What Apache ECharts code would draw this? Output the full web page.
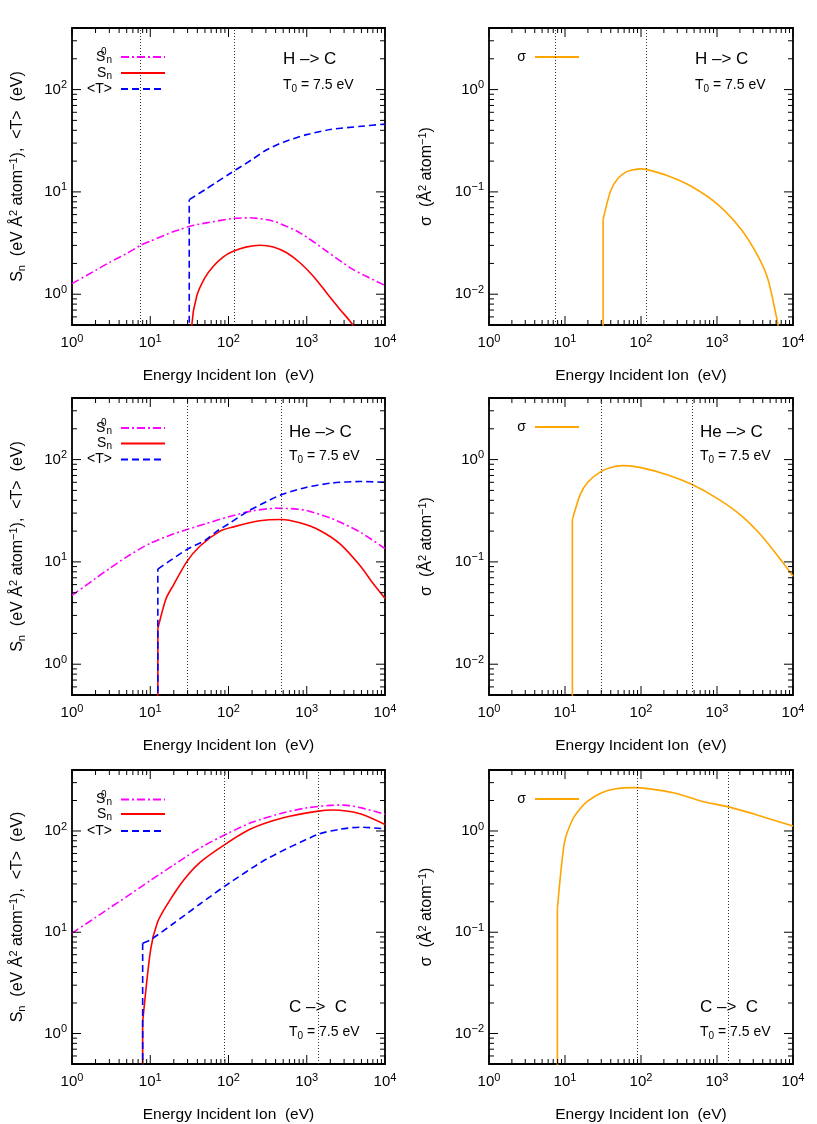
<!DOCTYPE html>
<html>
<head>
<meta charset="utf-8">
<script src="https://cdn.jsdelivr.net/npm/echarts@6/dist/echarts.min.js"></script>
<style>
html, body { margin: 0; padding: 0; background: #fff; }
#chart { width: 817px; height: 1124px; }
</style>
</head>
<body>
<div id="chart"></div>
<script>
// values, [energy (eV), value]
// H -> C
const hcS0 = [[1,1.27],[2,1.71],[3,2.04],[5,2.5],[7.5,3.0],[10,3.3],[20,4.1],[24,4.29],[32,4.62],[50,4.95],[115,5.5],[188,5.58],[374,5.17],[819,3.98],[1797,2.63],[3936,1.74],[10000,1.22]];
const hcSn = [[31.5,0.05],[34,0.5],[39.2,0.955],[50,1.45],[64,1.88],[86,2.32],[115,2.63],[171,2.9],[253,3.01],[374,2.9],[554,2.54],[819,2.03],[1213,1.5],[1797,1.03],[2660,0.71],[3866,0.5],[5000,0.3]];
const hcT = [[31.5,0.01],[31.5,8.4],[50,10.5],[70,12.4],[100,14.8],[200,20.7],[300,25.5],[500,30.6],[1000,36.3],[2000,40.7],[5000,43.8],[10000,46]];
const hcSig = [[31.7,0.001],[31.7,0.0537],[39.7,0.1016],[49.5,0.135],[63.8,0.157],[82,0.165],[100,0.168],[117,0.166],[225,0.144],[458,0.1136],[1028,0.0752],[2086,0.0429],[3460,0.0235],[4690,0.0139],[6340,0.00506],[8000,0.002]];
const hcLines = [7.5, 117];

// He -> C
const heS0 = [[1,4.7],[2,6.9],[3,8.6],[5,11.2],[10,15.2],[20,18.8],[30,20.8],[50,23.5],[100,27.6],[200,31.5],[400,33.4],[700,33],[1000,31.8],[2000,26.8],[3000,23.5],[5000,19.2],[10000,13.5]];
const heSn = [[12.5,0.01],[12.5,2.23],[15.9,4.37],[19.7,5.9],[29.2,10],[43.3,14.3],[78,20],[116,22],[250,25.2],[467,26],[820,24.1],[1470,20.3],[2660,15],[4790,9.2],[7100,6.1],[10000,4.4]];
const heT = [[12.5,0.01],[12.5,8.5],[29.2,13.2],[50,16.2],[70,19.8],[100,23.5],[180,31.5],[300,38.5],[467,45.2],[1000,53.7],[2170,59.2],[4790,61],[10000,60.1]];
const heSig = [[12.5,0.001],[12.5,0.259],[15.8,0.452],[19.9,0.6],[29.6,0.763],[44.8,0.855],[60.6,0.874],[100,0.835],[226,0.708],[472,0.57],[1028,0.413],[2086,0.284],[3830,0.181],[7020,0.103],[10000,0.0724]];
const heLines = [29.7, 470];

// C -> C
const ccS0 = [[1,9.8],[2,14],[3,17.3],[5,22.5],[10,32.4],[20,46.2],[30,56.9],[50,72.4],[100,95.5],[200,121.6],[500,151],[1000,169],[2000,179],[3000,180],[5000,169],[10000,146]];
const ccSn = [[8,0.01],[8,1.3],[10.1,6.7],[12.3,12.4],[16.2,18.4],[26.5,32.4],[43.3,49],[88.5,73],[188,104],[502,135],[1400,157],[2170,161],[4790,148],[10000,116]];
const ccT = [[8,0.01],[8,7.8],[10,8.4],[19.8,12.2],[43.2,19],[88.5,28.3],[307,52.8],[1400,92.7],[2660,104],[4790,109],[10000,105]];
const ccSig = [[7.94,0.001],[7.94,0.171],[9.83,0.769],[12.4,1.27],[15.5,1.63],[19.9,1.97],[29.9,2.37],[44.8,2.6],[82,2.68],[123,2.62],[276,2.37],[620,1.97],[1421,1.73],[3460,1.43],[10000,1.12]];
const ccLines = [88.5, 1415];

const xRange = [1, 10000];
const snRange = [0.5, 400];
const sigRange = [0.005, 4];

const FONT = 'Liberation Sans';
const chart = echarts.init(document.getElementById('chart'));

const gridLeft = [72, 489];
const gridWidth = [313, 304];
const gridTop = [28, 398, 770];
const gridH = 297;

const rows = [
  { S0: hcS0, Sn: hcSn, T: hcT, sig: hcSig, vl: hcLines, label: 'H –> C', tx: [283, 695], ty: [34, 57], ly: [31.5, 50, 66] },
  { S0: heS0, Sn: heSn, T: heT, sig: heSig, vl: heLines, label: 'He –> C', tx: [289, 700], ty: [37, 58], ly: [32.5, 50.5, 66.5] },
  { S0: ccS0, Sn: ccSn, T: ccT, sig: ccSig, vl: ccLines, label: 'C –>  C', tx: [289, 700], ty: [240, 262], ly: [32, 49, 66] }
];

const base = { fontFamily: FONT, color: '#000', fontWeight: 'normal' };
const powRich = {
  b: Object.assign({ fontSize: 15 }, base),
  e: Object.assign({ fontSize: 11, padding: [0, 0, 9, 0] }, base)
};
const nameRich = {
  t: Object.assign({ fontSize: 16 }, base),
  sub: Object.assign({ fontSize: 11, padding: [8, 0, 0, 0] }, base),
  sup: Object.assign({ fontSize: 11, padding: [0, 0, 9, 0] }, base)
};
const legRich = {
  t: Object.assign({ fontSize: 14 }, base),
  sub: Object.assign({ fontSize: 10, padding: [6, 0, 0, 0] }, base),
  sup: Object.assign({ fontSize: 10, padding: [0, 0, 9, 0], width: 1 }, base),
  gap: { width: 4 },
  h: { width: 1, height: 24 }
};
const legText = {
  S0: '{h| }{t|S}{sup|0}{sub|n}{gap| }',
  Sn: '{h| }{t|S}{sub|n}{gap| }',
  T: '{h| }{t|<T>}{gap| }',
  sigma: '{h| }{t|σ}{gap| }'
};

function powLabel(v) {
  const e = Math.log10(v);
  const r = Math.round(e);
  if (Math.abs(e - r) > 1e-6) return '';
  return '{b|10}{e|' + (r < 0 ? '−' + (-r) : r) + '}';
}

function logTicks(range) {
  const out = [];
  const d0 = Math.floor(Math.log10(range[0]) + 1e-9);
  const d1 = Math.ceil(Math.log10(range[1]) - 1e-9);
  for (let d = d0; d <= d1; d++) {
    for (let m = 1; m <= 9; m++) {
      const v = m * Math.pow(10, d);
      if (v >= range[0] * 0.999 && v <= range[1] * 1.001) out.push([v, m === 1 ? 1 : 0]);
    }
  }
  return out;
}

function tickSeries(gi, axis, range, other) {
  return {
    type: 'custom', xAxisIndex: gi, yAxisIndex: gi, silent: true, z: 10, animation: false,
    data: logTicks(range).map(t => axis === 'x' ? [t[0], other, t[1]] : [other, t[0], t[1]]),
    encode: { x: 0, y: 1 },
    renderItem: function (params, api) {
      const cs = params.coordSys;
      const p = api.coord([api.value(0), api.value(1)]);
      const len = api.value(2) ? 9 : 5;
      const st = { stroke: '#000', lineWidth: 1 };
      if (axis === 'x') {
        const x = p[0];
        return { type: 'group', children: [
          { type: 'line', shape: { x1: x, y1: cs.y + cs.height, x2: x, y2: cs.y + cs.height - len }, style: st },
          { type: 'line', shape: { x1: x, y1: cs.y, x2: x, y2: cs.y + len }, style: st }
        ] };
      }
      const y = p[1];
      return { type: 'group', children: [
        { type: 'line', shape: { x1: cs.x, y1: y, x2: cs.x + len, y2: y }, style: st },
        { type: 'line', shape: { x1: cs.x + cs.width, y1: y, x2: cs.x + cs.width - len, y2: y }, style: st }
      ] };
    }
  };
}

function lineSeries(gi, name, data, color, dash, smooth) {
  return {
    type: 'line', name: name, xAxisIndex: gi, yAxisIndex: gi, data: data,
    showSymbol: false, symbol: 'none', z: 3, animation: false,
    smooth: smooth ? 0.25 : false,
    lineStyle: { color: color, width: 1.6, type: dash },
    itemStyle: { color: color }
  };
}

// a curve whose first two points share the energy gets a straight vertical
// foot and a smoothed remainder
function addCurve(list, gi, name, data, color, dash) {
  if (data[0][0] === data[1][0]) {
    const foot = lineSeries(gi, name, data.slice(0, 2), color, dash, false);
    list.push(foot);
    list.push(lineSeries(gi, name, data.slice(1), color, dash, true));
    return foot;
  }
  const s = lineSeries(gi, name, data, color, dash, true);
  list.push(s);
  return s;
}

function vLines(vals) {
  return {
    silent: true, symbol: ['none', 'none'], label: { show: false },
    lineStyle: { color: '#333', width: 1, type: [1, 2] },
    data: vals.map(v => ({ xAxis: v }))
  };
}

function legendAt(name, right, center) {
  return {
    data: [name], right: right, top: center - 12,
    orient: 'vertical', align: 'right', itemWidth: 44, itemHeight: 12, padding: 0,
    selectedMode: false, formatter: n => legText[n],
    itemStyle: { opacity: 0 },
    textStyle: { rich: legRich }
  };
}

const grids = [], xAxes = [], yAxes = [], series = [], legends = [], titles = [];

rows.forEach((row, r) => {
  for (let c = 0; c < 2; c++) {
    const gi = r * 2 + c;
    const yr = c === 0 ? snRange : sigRange;
    grids.push({
      left: gridLeft[c], top: gridTop[r], width: gridWidth[c], height: gridH,
      show: true, borderColor: '#000', borderWidth: 1.8, backgroundColor: 'transparent'
    });
    xAxes.push({
      type: 'log', logBase: 10, gridIndex: gi, min: xRange[0], max: xRange[1],
      axisLine: { show: false }, axisTick: { show: false }, splitLine: { show: false },
      axisLabel: { margin: 8, formatter: powLabel, rich: powRich },
      name: 'Energy Incident Ion  (eV)', nameLocation: 'middle', nameGap: 43,
      nameTextStyle: { fontSize: 15.5, fontFamily: FONT, color: '#000' }
    });
    yAxes.push({
      type: 'log', logBase: 10, gridIndex: gi, min: yr[0], max: yr[1],
      axisLine: { show: false }, axisTick: { show: false }, splitLine: { show: false },
      axisLabel: { margin: 5, formatter: powLabel, rich: powRich },
      name: c === 0
        ? '{t|S}{sub|n}{t|  (eV Å}{sup|2}{t| atom}{sup|−1}{t|),  <T>  (eV)}'
        : '{t|σ  (Å}{sup|2}{t| atom}{sup|−1}{t|)}',
      nameLocation: 'middle', nameRotate: 90, nameGap: c === 0 ? 44 : 52,
      nameTextStyle: { rich: nameRich }
    });
    series.push(tickSeries(gi, 'x', xRange, yr[0]));
    series.push(tickSeries(gi, 'y', yr, xRange[0]));
    if (c === 0) {
      const s0 = addCurve(series, gi, 'S0', row.S0, '#ff00ff', [8, 3, 2, 3]);
      s0.markLine = vLines(row.vl);
      addCurve(series, gi, 'Sn', row.Sn, '#ff0000', 'solid');
      addCurve(series, gi, 'T', row.T, '#0000ff', [7, 4]);
      legends.push(legendAt('S0', 817 - 166, gridTop[r] + row.ly[0]));
      legends.push(legendAt('Sn', 817 - 166, gridTop[r] + row.ly[1]));
      legends.push(legendAt('T', 817 - 166, gridTop[r] + row.ly[2]));
    } else {
      const sg = addCurve(series, gi, 'sigma', row.sig, '#ffa500', 'solid');
      sg.markLine = vLines(row.vl);
      legends.push(legendAt('sigma', 817 - 580, gridTop[r] + 34));
    }
    titles.push({
      text: row.label, left: row.tx[c], top: gridTop[r] + row.ty[0] - 11, padding: 0,
      textStyle: { fontSize: 17, fontWeight: 'normal', fontFamily: FONT, color: '#000' }
    });
    titles.push({
      text: '{t|T}{sub|0}{t| = 7.5 eV}', left: row.tx[c], top: gridTop[r] + row.ty[1] - 9, padding: 0,
      textStyle: {
        fontWeight: 'normal',
        rich: {
          t: Object.assign({ fontSize: 14 }, base),
          sub: Object.assign({ fontSize: 10, padding: [8, 0, 0, 0] }, base)
        }
      }
    });
  }
});

chart.setOption({
  animation: false,
  backgroundColor: '#fff',
  textStyle: { fontFamily: FONT },
  title: titles,
  legend: legends,
  grid: grids,
  xAxis: xAxes,
  yAxis: yAxes,
  series: series
});
</script>
</body>
</html>
